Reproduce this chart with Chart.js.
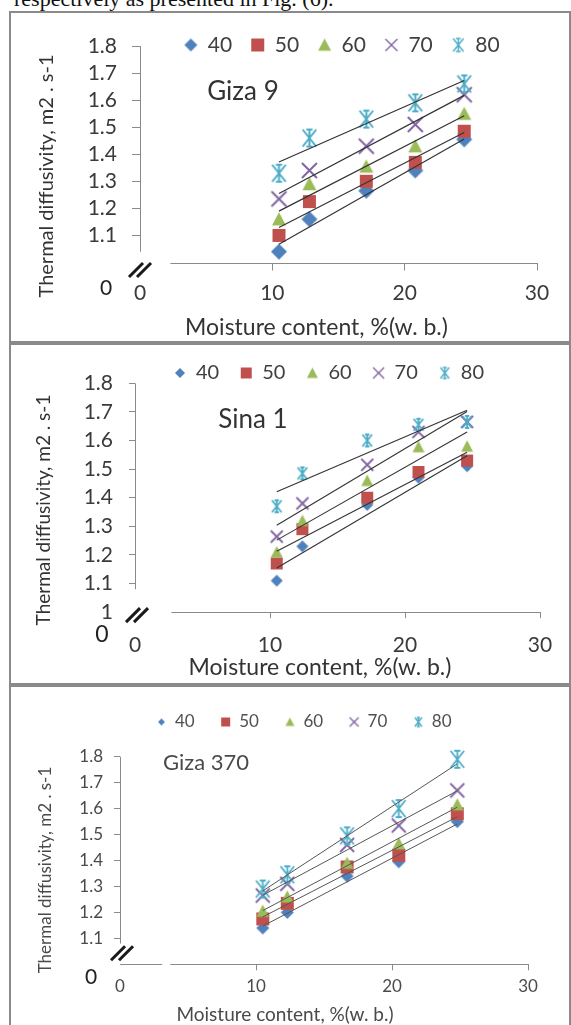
<!DOCTYPE html>
<html><head><meta charset="utf-8">
<script src="https://cdn.jsdelivr.net/npm/chart.js@4.4.0/dist/chart.umd.min.js"></script>
<style>
html,body{margin:0;padding:0;background:#fff;width:571px;height:1025px;overflow:hidden;position:relative}
.panel{position:absolute;left:9px;width:558px;border:2px solid #8a8a8a;background:#fff}
.panel canvas{display:block}
#cap{position:absolute;left:14px;top:-12px;font:22px/22px "Liberation Serif",serif;color:#111;white-space:nowrap}
</style></head><body>
<div id="cap">respectively as presented in Fig. (6).</div>
<div class="panel" style="top:11px;height:328px"><canvas id="c1" width="558" height="328" style="width:558px;height:328px"></canvas></div>
<div class="panel" style="top:343px;height:338px"><canvas id="c2" width="558" height="338" style="width:558px;height:338px"></canvas></div>
<div class="panel" style="top:685px;height:341px"><canvas id="c3" width="558" height="341" style="width:558px;height:341px"></canvas></div>
<script>
// ---------------- data ----------------
const seriesNames = ['40', '50', '60', '70', '80'];

const giza9X   = [10.5, 12.8, 17.1, 20.8, 24.5];
const giza9_40 = [1.04, 1.16, 1.265, 1.34, 1.455];
const giza9_50 = [1.10, 1.225, 1.30, 1.37, 1.485];
const giza9_60 = [1.16, 1.29, 1.355, 1.43, 1.55];
const giza9_70 = [1.235, 1.34, 1.43, 1.51, 1.62];
const giza9_80 = [1.33, 1.46, 1.53, 1.59, 1.66];

const sina1X   = [10.5, 12.4, 17.2, 21.0, 24.6];
const sina1_40 = [1.11, 1.23, 1.375, 1.47, 1.51];
const sina1_50 = [1.17, 1.29, 1.40, 1.49, 1.53];
const sina1_60 = [1.21, 1.32, 1.46, 1.578, 1.58];
const sina1_70 = [1.264, 1.38, 1.515, 1.63, 1.665];
const sina1_80 = [1.37, 1.485, 1.60, 1.655, 1.665];

const giza370X   = [10.5, 12.3, 16.7, 20.5, 24.8];
const giza370_40 = [1.14, 1.20, 1.34, 1.395, 1.55];
const giza370_50 = [1.175, 1.235, 1.375, 1.42, 1.58];
const giza370_60 = [1.205, 1.26, 1.39, 1.465, 1.615];
const giza370_70 = [1.265, 1.31, 1.46, 1.535, 1.67];
const giza370_80 = [1.29, 1.345, 1.495, 1.60, 1.79];

const xMin = 0, xMax = 30, xStep = 10;
const yMin = 1, yMax = 1.8, yStep = 0.1;
const xTitleText = 'Moisture content, %(w. b.)';
const yTitleText = 'Thermal diffusivity, m2 . s-1';

// ---------------- styles ----------------
const seriesColors = ['#4F81BD', '#C0504D', '#9BBB59', '#8064A2', '#4BACC6'];
const seriesKinds  = ['diamond', 'square', 'triangle', 'x', 'star'];

function makeMarker(kind, size, color, lw) {
  const s = Math.ceil(size) + 4;
  const c = document.createElement('canvas');
  c.width = c.height = s;
  const g = c.getContext('2d');
  const m = s / 2, r = size / 2;
  g.fillStyle = color; g.strokeStyle = color; g.lineWidth = lw; g.lineCap = 'butt';
  if (kind === 'diamond') {
    g.beginPath(); g.moveTo(m, m - r); g.lineTo(m + r, m); g.lineTo(m, m + r); g.lineTo(m - r, m); g.closePath(); g.fill();
  } else if (kind === 'square') {
    g.fillRect(m - r, m - r, 2 * r, 2 * r);
  } else if (kind === 'triangle') {
    g.beginPath(); g.moveTo(m, m - r); g.lineTo(m + r, m + r * 0.9); g.lineTo(m - r, m + r * 0.9); g.closePath(); g.fill();
  } else if (kind === 'x') {
    g.beginPath(); g.moveTo(m - r, m - r); g.lineTo(m + r, m + r); g.moveTo(m + r, m - r); g.lineTo(m - r, m + r); g.stroke();
  } else if (kind === 'star') {
    const a = r * 0.8;
    g.beginPath();
    g.moveTo(m - a, m - r); g.lineTo(m + a, m + r);
    g.moveTo(m + a, m - r); g.lineTo(m - a, m + r);
    g.moveTo(m, m - r); g.lineTo(m, m + r);
    g.moveTo(m - a * 0.45, m - r); g.lineTo(m + a * 0.45, m - r);
    g.moveTo(m - a * 0.45, m + r); g.lineTo(m + a * 0.45, m + r);
    g.stroke();
  }
  return c;
}

function trend(xs, ys) {
  const n = xs.length;
  const mx = xs.reduce((a, b) => a + b, 0) / n;
  const my = ys.reduce((a, b) => a + b, 0) / n;
  let sxy = 0, sxx = 0;
  for (let i = 0; i < n; i++) { sxy += (xs[i] - mx) * (ys[i] - my); sxx += (xs[i] - mx) ** 2; }
  const b = sxy / sxx, a = my - b * mx;
  const x1 = Math.min(...xs), x2 = Math.max(...xs);
  return [{ x: x1, y: a + b * x1 }, { x: x2, y: a + b * x2 }];
}

const panels = [
  { id: 'c1', name: 'Giza 9', xs: giza9X, ys: [giza9_40, giza9_50, giza9_60, giza9_70, giza9_80],
    W: 558, H: 328, area: { left: 129, right: 526, top: 33, bottom: 249.5 },
    tickFont: 21, tickColor: '#3a3a3a', tickLen: 8, xPad: 10, yPad: 15,
    legend: { cx: 331, cy: 32, font: 21, pad: 19, box: 13, color: '#404040' },
    dataSize: [16, 13, 14, 15, 17], legendSize: [13, 13, 13, 12, 13], lw: 2,
    title: [232, 79, 26], xTitle: [305.5, 315, 23], yTitle: [36, 163, 20], zero: [95, 275, 21],
    brk: [0, 7.5], xSegs: [[2.3, 30]], yAxisEnd: 1.04, hideOne: true,
    textColor: '#333', trendColor: '#333', trendWidth: 1.2 },
  { id: 'c2', name: 'Sina 1', xs: sina1X, ys: [sina1_40, sina1_50, sina1_60, sina1_70, sina1_80],
    W: 558, H: 338, area: { left: 124, right: 529, top: 38.3, bottom: 267.1 },
    tickFont: 21, tickColor: '#3a3a3a', tickLen: 6, xPad: 15, yPad: 16,
    legend: { cx: 318, cy: 28, font: 20, pad: 21, box: 12, color: '#404040' },
    dataSize: [12, 12, 12, 12, 12], legendSize: [10, 11, 11, 11, 11], lw: 1.8,
    title: [242, 75, 26], xTitle: [309, 323, 23], yTitle: [33, 165, 19], zero: [91, 290, 23],
    brk: [2, 3], xSegs: [[2.7, 30]], yAxisEnd: 1.08, hideOne: false,
    textColor: '#333', trendColor: '#333', trendWidth: 1.1 },
  { id: 'c3', name: 'Giza 370', xs: giza370X, ys: [giza370_40, giza370_50, giza370_60, giza370_70, giza370_80],
    W: 558, H: 341, area: { left: 109, right: 517, top: 69.7, bottom: 277.3 },
    tickFont: 17, tickColor: '#4a4a4a', tickLen: 6, xPad: 6, yPad: 11,
    legend: { cx: 293, cy: 35, font: 17, pad: 26, box: 10, color: '#505050' },
    dataSize: [13, 13, 13, 14, 17], legendSize: [7, 9, 9, 9, 9], lw: 1.8,
    title: [195, 76, 22], xTitle: [274, 328, 19], yTitle: [34.5, 183, 17], zero: [80, 290, 21],
    brk: [2, -11], xSegs: [[0, 3.1], [3.7, 30]], yAxisEnd: 1.08, hideOne: true,
    textColor: '#4a4a4a', trendColor: '#555', trendWidth: 1 }
];

Chart.defaults.font.family = 'Lato, "Open Sans", sans-serif';

const decor = {
  id: 'decor',
  afterLayout(chart, args, o) {
    const lg = chart.legend;
    if (!lg) return;
    const lo = chart.options.plugins.legend.labels;
    const dx = o.legend.cx - (lg.left + lg.right) / 2;
    const newTop = o.legend.cy - lo.padding - lo.font.size / 2;
    lg.left += dx; lg.right += dx;
    lg.top = newTop; lg.bottom = newTop + lo.font.size + 2 * lo.padding + 10;
    lg.height = lg.bottom - lg.top;
  },
  beforeDatasetsDraw(chart, args, o) {
    const ctx = chart.ctx, xs = chart.scales.x, ys = chart.scales.y;
    ctx.save();
    ctx.strokeStyle = '#8a8a8a'; ctx.lineWidth = 1;
    const y0 = Math.round(ys.getPixelForValue(yMin)) + 0.5;
    o.xSegs.forEach(([a, b]) => {
      ctx.beginPath(); ctx.moveTo(xs.getPixelForValue(a), y0); ctx.lineTo(xs.getPixelForValue(b), y0); ctx.stroke();
    });
    const x0 = Math.round(xs.getPixelForValue(0)) + 0.5;
    ctx.beginPath(); ctx.moveTo(x0, ys.getPixelForValue(yMax)); ctx.lineTo(x0, ys.getPixelForValue(o.yAxisEnd)); ctx.stroke();
    ctx.restore();
  },
  afterDraw(chart, args, o) {
    const ctx = chart.ctx, xs = chart.scales.x, ys = chart.scales.y;
    ctx.save();
    ctx.fillStyle = o.textColor; ctx.textAlign = 'center'; ctx.textBaseline = 'middle';
    const fam = Chart.defaults.font.family;
    ctx.font = o.title[2] + 'px ' + fam; ctx.fillText(o.name, o.title[0], o.title[1]);
    ctx.font = o.xTitle[2] + 'px ' + fam; ctx.fillText(xTitleText, o.xTitle[0], o.xTitle[1]);
    ctx.font = o.zero[2] + 'px ' + fam; ctx.fillStyle = '#222'; ctx.fillText('0', o.zero[0], o.zero[1]);
    ctx.save();
    ctx.fillStyle = o.textColor;
    ctx.translate(o.yTitle[0], o.yTitle[1]); ctx.rotate(-Math.PI / 2);
    ctx.font = o.yTitle[2] + 'px ' + fam; ctx.fillText(yTitleText, 0, 0);
    ctx.restore();
    // axis break marks
    const cx = xs.getPixelForValue(0) + o.brk[0], cy = ys.getPixelForValue(yMin) + o.brk[1];
    ctx.strokeStyle = '#1a1a1a'; ctx.lineWidth = 3; ctx.lineCap = 'butt';
    [-4, 4].forEach(d => {
      ctx.beginPath(); ctx.moveTo(cx + d - 7, cy + 7); ctx.lineTo(cx + d + 7, cy - 7); ctx.stroke();
    });
    ctx.restore();
  }
};

panels.forEach(p => {
  const datasets = [];
  p.ys.forEach((vals, i) => {
    datasets.push({
      label: seriesNames[i],
      data: vals.map((v, k) => ({ x: p.xs[k], y: v })),
      pointStyle: makeMarker(seriesKinds[i], p.dataSize[i], seriesColors[i], p.lw),
      legendMarker: makeMarker(seriesKinds[i], p.legendSize[i], seriesColors[i], 1.4),
      backgroundColor: seriesColors[i], borderColor: seriesColors[i],
      pointRadius: 5, showLine: false, order: 5 - i, clip: false
    });
  });
  p.ys.forEach((vals, i) => {
    datasets.push({
      label: 'trend ' + seriesNames[i], isTrend: true,
      data: trend(p.xs, vals), showLine: true, pointRadius: 0,
      borderColor: p.trendColor, borderWidth: p.trendWidth, backgroundColor: p.trendColor,
      order: 0, clip: false
    });
  });
  const tickGrid = (hideVal) => ({
    display: true, drawOnChartArea: false, drawTicks: true, tickLength: p.tickLen, lineWidth: 1,
    color: c => (c.tick && Math.abs(c.tick.value - hideVal) < 1e-9) ? 'rgba(0,0,0,0)' : '#8a8a8a'
  });
  new Chart(document.getElementById(p.id), {
    type: 'scatter',
    data: { datasets },
    options: {
      responsive: false, animation: false, devicePixelRatio: 1, events: [],
      layout: { padding: { left: 0, top: p.area.top - 1, right: p.W - p.area.right, bottom: 0 } },
      scales: {
        x: {
          type: 'linear', position: 'bottom', min: xMin, max: xMax,
          ticks: { stepSize: xStep, autoSkip: false, maxRotation: 0, padding: p.xPad, color: p.tickColor, font: { size: p.tickFont } },
          grid: tickGrid(0), border: { display: false },
          afterFit: s => { s.height = p.H - p.area.bottom; }
        },
        y: {
          type: 'linear', position: 'left', min: yMin, max: yMax,
          ticks: {
            stepSize: yStep, autoSkip: false, padding: p.yPad, color: p.tickColor, font: { size: p.tickFont },
            callback: v => (p.hideOne && Math.abs(v - 1) < 1e-9) ? '' : String(Math.round(v * 10) / 10)
          },
          grid: tickGrid(1), border: { display: false },
          afterFit: s => { s.width = p.area.left; }
        }
      },
      plugins: {
        tooltip: { enabled: false },
        legend: {
          display: true, position: 'top', maxHeight: 1,
          labels: {
            usePointStyle: true, boxWidth: p.legend.box, boxHeight: p.legend.box, padding: p.legend.pad,
            color: p.legend.color, font: { size: p.legend.font },
            generateLabels: chart => chart.data.datasets
              .map((ds, i) => ({ ds, i }))
              .filter(o => !o.ds.isTrend)
              .map(o => ({
                text: o.ds.label, datasetIndex: o.i, pointStyle: o.ds.legendMarker,
                fillStyle: o.ds.backgroundColor, strokeStyle: o.ds.borderColor, lineWidth: 0,
                hidden: false, fontColor: p.legend.color
              }))
          }
        },
        decor: p
      }
    },
    plugins: [decor]
  });
});
</script>
</body></html>
